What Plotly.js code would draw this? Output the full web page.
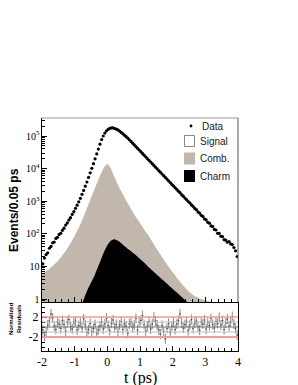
<!DOCTYPE html>
<html><head><meta charset="utf-8">
<script src="https://cdn.plot.ly/plotly-3.0.1.min.js"></script>
<style>html,body{margin:0;padding:0;background:#fff;}#chart{width:298px;height:385px;}</style>
</head><body><div id="chart"></div>
<script>
// Histogram binning (0.05 ps bins from -2 to 4 ps)
const binStart = -2.0;
const binWidth = 0.05;

// Data: events per 0.05 ps bin
const dataCounts = [
  12, 18, 23, 26, 36, 41, 53, 56, 72, 78,
  96, 104, 128, 149, 185, 216, 266, 312, 392, 476,
  606, 755, 958, 1226, 1625, 2134, 2889, 3885, 5372, 7409,
  10228, 14130, 19948, 28176, 39815, 56224, 77618, 99990, 123010, 144480,
  158520, 171790, 177810, 176990, 169820, 162190, 153120, 141290, 128810, 117480,
  105910, 95510, 86090, 76710, 68010, 60250, 53410, 47290, 41940, 37140,
  32930, 29160, 25860, 22900, 20310, 17980, 15950, 14120, 12530, 11080,
  9840, 8700, 7730, 6830, 6070, 5360, 4770, 4210, 3750, 3300,
  2940, 2590, 2310, 2030, 1820, 1590, 1430, 1250, 1120, 980,
  884, 770, 694, 602, 548, 470, 431, 368, 340, 286,
  268, 225, 212, 175, 168, 136, 131, 104, 103, 84,
  82, 66, 64, 55, 58, 49, 47, 38, 30, 20
];

// Model component curves, sampled every 0.1 ps
const modelTimes = [
  -2.0,-1.9,-1.8,-1.7,-1.6,-1.5,-1.4,-1.3,-1.2,-1.1,
  -1.0,-0.9,-0.8,-0.7,-0.6,-0.5,-0.4,-0.3,-0.2,-0.1,
  0.0,0.1,0.2,0.3,0.4,0.5,0.6,0.7,0.8,0.9,
  1.0,1.1,1.2,1.3,1.4,1.5,1.6,1.7,1.8,1.9,
  2.0,2.1,2.2,2.3,2.4,2.5,2.6,2.7,2.8,2.9,
  3.0,3.1,3.2,3.3,3.4,3.5,3.6,3.7,3.8,3.9,4.0
];
const combCounts = [
  6.0, 6.9, 8.1, 9.8, 12.0, 15.1, 20.0, 27.5, 38.9, 56.2,
  85.1, 135, 224, 389, 708, 1259, 2239, 3981, 6918, 10960,
  13800, 10470, 6026, 3631, 2239, 1479, 955, 646, 437, 302,
  214, 151, 107, 75.9, 52.5, 36.3, 25.1, 17.4, 12.6, 9.1,
  6.6, 4.9, 3.6, 2.75, 2.14, 1.66, 1.38, 1.2, 1.07, 0.98,
  0.92, 0.87, 0.83, 0.805, 0.78, 0.75, 0.72, 0.69, 0.67, 0.64, 0.62
];
const charmCounts = [
  0.01, 0.01, 0.01, 0.01, 0.01, 0.01, 0.02, 0.03, 0.05, 0.07,
  0.1, 0.25, 0.63, 1.12, 2.0, 3.16, 5.0, 8.9, 15.8, 28.2,
  44.7, 60.3, 67.6, 63.1, 53.7, 43.7, 36.3, 30.9, 25.1, 20.9,
  17.0, 13.8, 11.0, 8.7, 7.1, 5.75, 4.68, 3.80, 3.09, 2.51,
  2.04, 1.66, 1.35, 1.10, 0.89, 0.72, 0.59, 0.48, 0.39, 0.32,
  0.26, 0.21, 0.17, 0.14, 0.11, 0.09, 0.07, 0.06, 0.05, 0.04, 0.03
];

// Normalized residuals per bin
const residuals = [
  -0.6, -1.8, -1.0, 0.4, 1.2, 2.6, 1.8, 0.2, -0.5, 1.0,
  0.6, -0.3, 1.3, 0.5, -0.8, 0.9, 1.5, 0.1, -0.4, 0.8,
  1.2, -0.6, 0.3, 0.9, -0.2, 1.6, 0.4, -1.1, -0.5, 0.7,
  -0.9, -0.3, 0.5, -1.2, -0.6, 0.2, 1.0, -0.4, 0.6, 1.8,
  0.3, -0.7, 0.8, 1.4, -0.2, 0.5, -0.9, 0.4, 1.1, -0.5,
  0.7, 0.2, -1.3, 0.6, 1.0, -0.1, 0.4, 1.7, -0.6, 0.9,
  1.3, 2.3, 0.5, -0.8, 0.2, 1.1, -0.4, 0.6, 2.0, 1.2,
  0.4, -0.6, -1.4, 0.3, -0.9, -2.4, -0.3, 0.7, -1.1, 0.2,
  0.9, -0.5, 0.6, 1.3, 2.6, 0.8, -0.2, 0.5, 1.1, -0.7,
  0.4, 1.5, -0.3, 0.8, 1.2, 0.1, -0.6, 1.0, 0.6, 1.4,
  -0.4, 0.9, 0.3, 1.7, 0.5, -0.2, 1.1, 0.7, 1.9, 0.4,
  1.3, -0.5, 0.8, 1.6, 0.2, 1.0, 2.1, 0.6, -0.3, -1.6
];
const residualErrors = residuals.map(() => 1.0);

// Axis tick labels
const xTickVals = [-2, -1, 0, 1, 2, 3, 4];
const xTickText = ['-2', '-1', '0', '1', '2', '3', '4'];
const resTickVals = [-2, 2];
const resTickText = ['-2', '2'];

// Legend entries
const legendLabels = ['Data', 'Signal', 'Comb.', 'Charm'];

const binCenters = dataCounts.map((_, i) => binStart + binWidth * (i + 0.5));

const tan = '#c1b7ac';
const serif = 'Liberation Serif';
const sans = 'Liberation Sans';

const traces = [
  {x: modelTimes, y: combCounts, type: 'scatter', mode: 'lines', fill: 'tozeroy',
   fillcolor: tan, line: {color: tan, width: 0, shape: 'spline', smoothing: 0.5}, xaxis: 'x', yaxis: 'y', hoverinfo: 'skip'},
  {x: modelTimes, y: charmCounts, type: 'scatter', mode: 'lines', fill: 'tozeroy',
   fillcolor: '#000', line: {color: '#000', width: 0, shape: 'spline', smoothing: 0.5}, xaxis: 'x', yaxis: 'y', hoverinfo: 'skip'},
  {x: binCenters, y: dataCounts, type: 'scatter', mode: 'markers',
   marker: {color: '#000', size: 3.2}, xaxis: 'x', yaxis: 'y'},
  {x: binCenters, y: residuals, type: 'scatter', mode: 'markers',
   marker: {color: '#555', size: 1.6},
   error_y: {type: 'data', array: residualErrors, color: '#8a8a8a', thickness: 1, width: 0},
   error_x: {type: 'constant', value: binWidth / 2, color: '#8a8a8a', thickness: 1, width: 0},
   xaxis: 'x2', yaxis: 'y2'}
];

// geometry helpers (plot area: x 42..238, y 118..351)
const L = 42, R = 238, T = 118, B = 351;
const px = v => (v - L) / (R - L);
const py = v => (B - v) / (B - T);
const split = py(302);

const shapes = [
  {type: 'line', xref: 'x2', yref: 'y2', x0: -2, x1: 4, y0: 2, y1: 2, line: {color: '#f29a9a', width: 1.5}},
  {type: 'line', xref: 'x2', yref: 'y2', x0: -2, x1: 4, y0: -2, y1: -2, line: {color: '#f29a9a', width: 2}},
  {type: 'line', xref: 'x2', yref: 'y2', x0: -2, x1: 4, y0: 1, y1: 1, line: {color: '#bdbdbd', width: 1}},
  {type: 'line', xref: 'x2', yref: 'y2', x0: -2, x1: 4, y0: -1, y1: -1, line: {color: '#bdbdbd', width: 1}},
  {type: 'line', xref: 'x2', yref: 'y2', x0: -2, x1: 4, y0: 0, y1: 0, line: {color: '#777', width: 1}},
  // frame top (gray)
  {type: 'line', xref: 'paper', yref: 'paper', x0: 0, x1: 1, y0: 1, y1: 1, line: {color: '#999', width: 1.2}},
  // legend symbols
  {type: 'circle', xref: 'paper', yref: 'paper', x0: px(189.6), x1: px(192.4), y0: py(127.4), y1: py(124.6), fillcolor: '#000', line: {width: 0}},
  {type: 'rect', xref: 'paper', yref: 'paper', x0: px(184.5), x1: px(194.5), y0: py(146.5), y1: py(135.5), fillcolor: '#fff', line: {color: '#888', width: 1}},
  {type: 'rect', xref: 'paper', yref: 'paper', x0: px(184), x1: px(195), y0: py(164.5), y1: py(152.5), fillcolor: tan, line: {width: 0}},
  {type: 'rect', xref: 'paper', yref: 'paper', x0: px(184), x1: px(195), y0: py(182), y1: py(170), fillcolor: '#000', line: {width: 0}}
];

const legendY = [126, 141, 158.5, 176];
const annotations = legendLabels.map((t, i) => ({
  text: t, xref: 'paper', yref: 'paper', x: px(i === 0 ? 199.5 : 197.5), y: py(legendY[i]),
  xanchor: 'left', yanchor: 'middle', showarrow: false,
  font: {family: sans, size: 10, color: '#222'}
}));
annotations.push(
  {text: 't (ps)', xref: 'paper', yref: 'paper', x: 0.5, y: py(378), xanchor: 'center', yanchor: 'middle',
   showarrow: false, font: {family: serif, size: 16, color: '#000'}},
  {text: 'Events/0.05 ps', xref: 'paper', yref: 'paper', x: px(14), y: py(210), xanchor: 'center', yanchor: 'middle',
   textangle: -90, showarrow: false, font: {family: sans, size: 12, weight: 'bold', color: '#000'}},
  {text: 'Normalized<br>Residuals', xref: 'paper', yref: 'paper', x: px(15), y: py(319), xanchor: 'center', yanchor: 'middle',
   textangle: -90, showarrow: false, font: {family: sans, size: 6, weight: 'bold', color: '#000'}}
);

const axisCommon = {
  showline: true, linecolor: '#000', linewidth: 1, ticks: 'inside', ticklen: 5, tickwidth: 1,
  tickcolor: '#000', showgrid: false, zeroline: false
};

const layout = {
  width: 298, height: 385,
  margin: {l: L, r: 298 - R, t: T, b: 385 - B, pad: 0},
  paper_bgcolor: '#fff', plot_bgcolor: '#fff',
  showlegend: false,
  xaxis: Object.assign({}, axisCommon, {
    domain: [0, 1], anchor: 'y', range: [-2, 4], showticklabels: false,
    tickvals: xTickVals, minor: {ticks: 'inside', ticklen: 3, dtick: 0.2, tickcolor: '#000'}
  }),
  yaxis: Object.assign({}, axisCommon, {
    domain: [split, 1], anchor: 'x', type: 'log', range: [-0.092, 5.552], dtick: 1,
    exponentformat: 'power', mirror: false,
    tickfont: {family: serif, size: 8, color: '#000'},
    minor: {ticks: 'inside', ticklen: 3, dtick: 'D1', tickcolor: '#000'}
  }),
  xaxis2: Object.assign({}, axisCommon, {
    domain: [0, 1], anchor: 'y2', range: [-2, 4], matches: 'x',
    tickvals: xTickVals, ticktext: xTickText,
    tickfont: {family: serif, size: 12, color: '#000'},
    minor: {ticks: 'inside', ticklen: 3, dtick: 0.2, tickcolor: '#000'}
  }),
  yaxis2: Object.assign({}, axisCommon, {
    domain: [0, split], anchor: 'x2', range: [-4.8, 5],
    tickvals: resTickVals, ticktext: resTickText, mirror: true,
    tickfont: {family: serif, size: 12, color: '#000'},
    minor: {ticks: 'inside', ticklen: 3, dtick: 1, tickcolor: '#000'}
  }),
  shapes: shapes,
  annotations: annotations
};
// right frame for main plot
layout.shapes.push({type: 'line', xref: 'paper', yref: 'paper', x0: 1, x1: 1, y0: split, y1: 1, line: {color: '#555', width: 1}});

Plotly.newPlot('chart', traces, layout, {displayModeBar: false, staticPlot: true});
</script>
</body></html>
